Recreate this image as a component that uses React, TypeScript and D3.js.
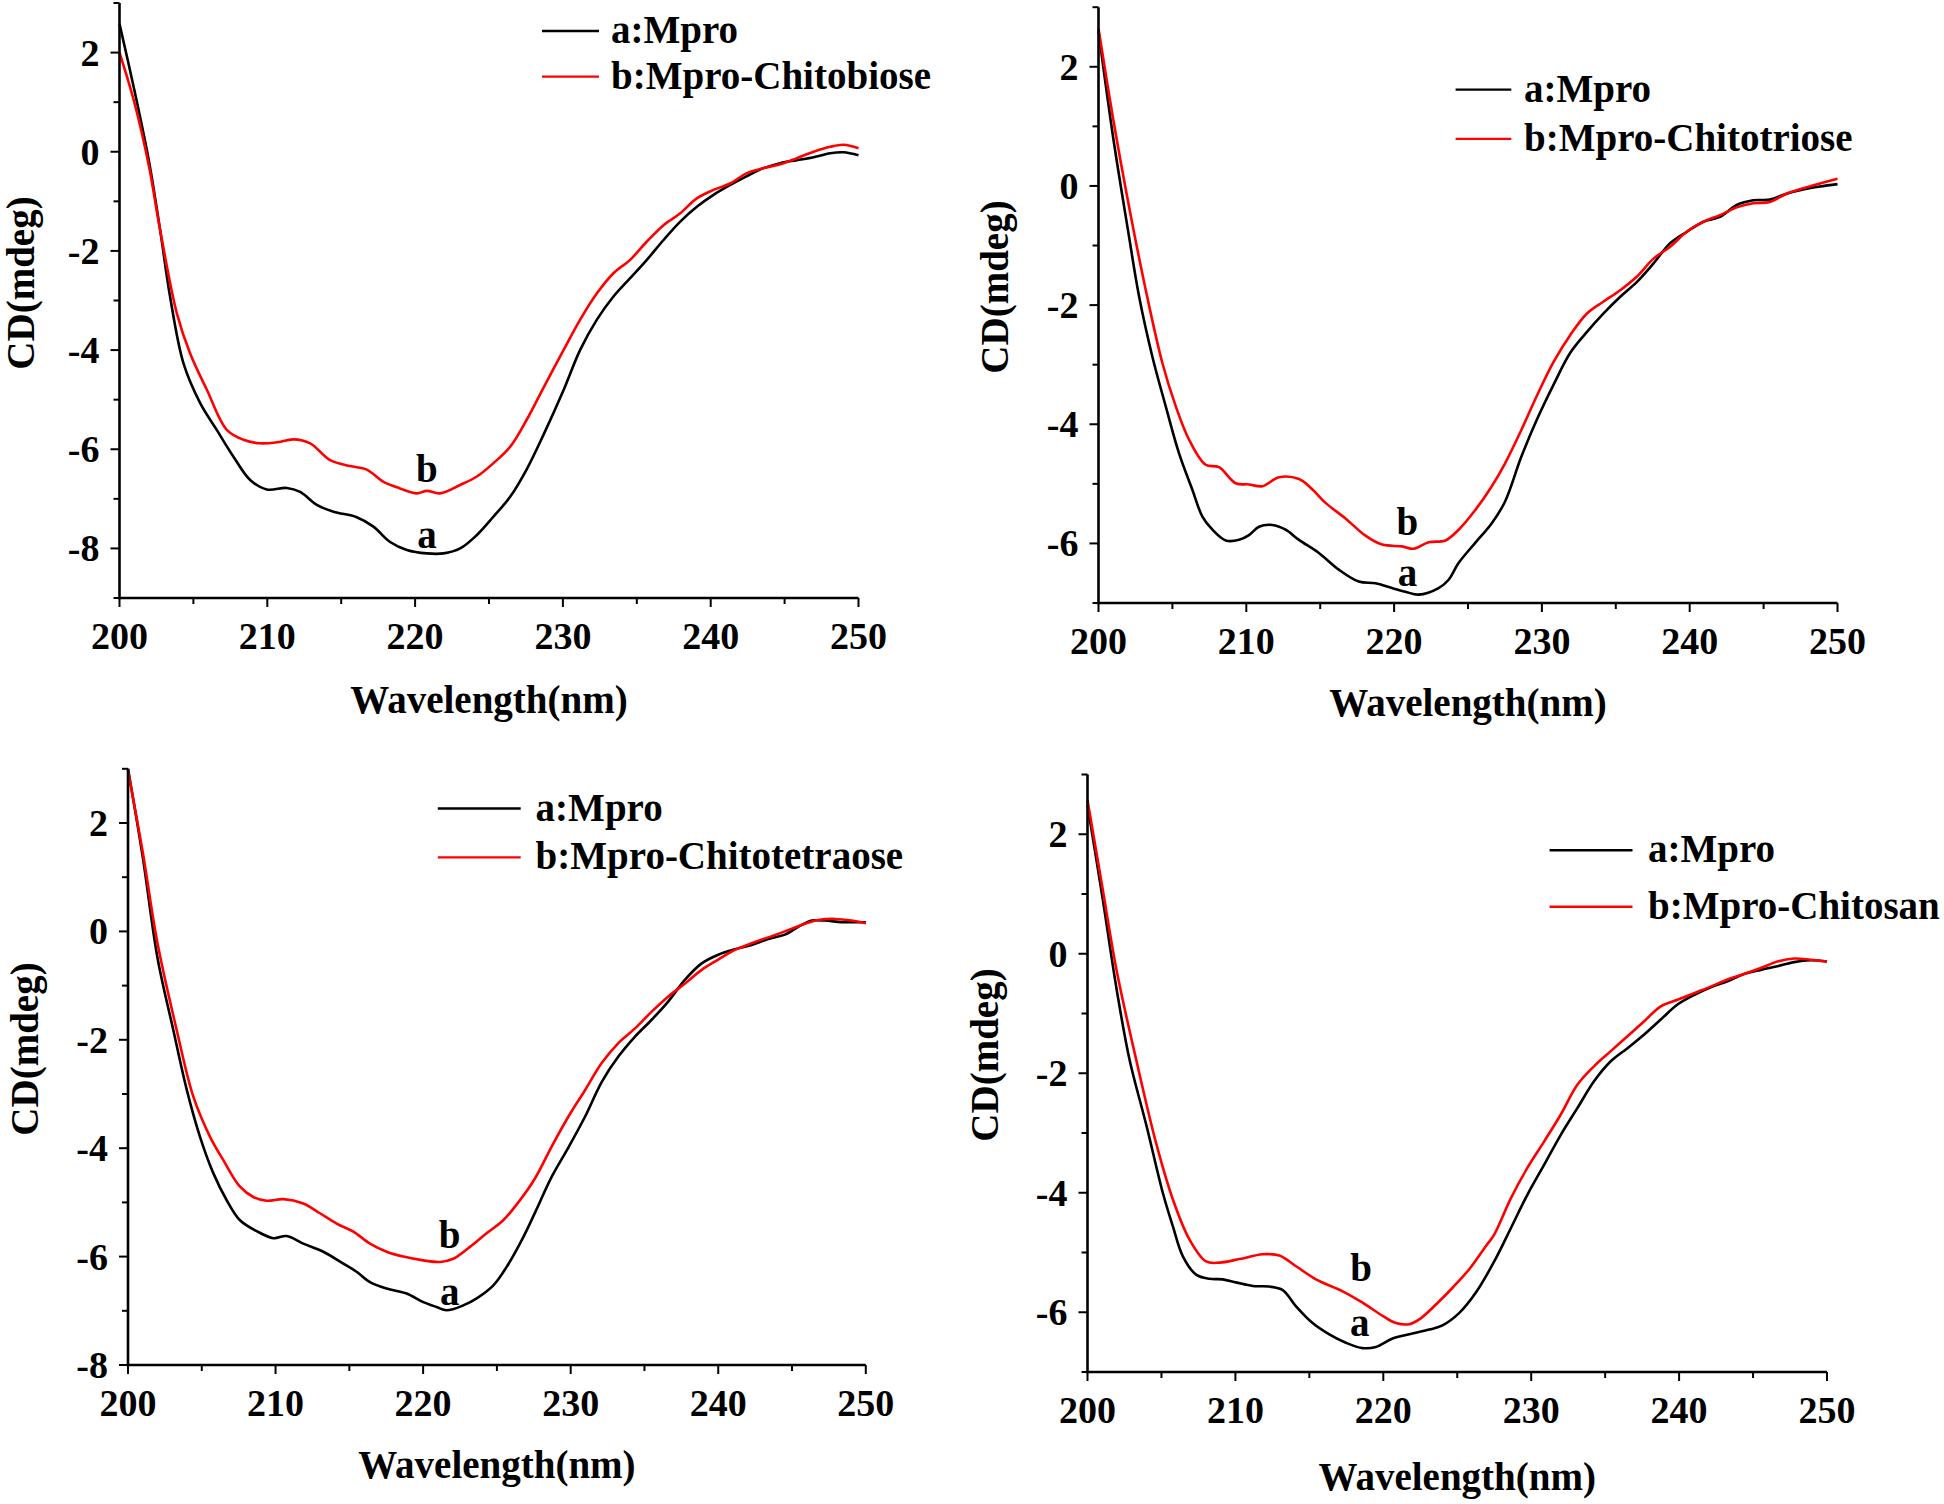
import React from 'react';
import * as d3 from 'd3';

type Pt = [number, number];

// ---------- data ----------
const xMajorTicks = [200, 210, 220, 230, 240, 250];
const xMinorTicks = [205, 215, 225, 235, 245];

const yDomains: [number, number][] = [[-9, 3], [-7, 3], [-8, 3], [-7, 3]];
const yMajorTicks = [
  [-8, -6, -4, -2, 0, 2],
  [-6, -4, -2, 0, 2],
  [-8, -6, -4, -2, 0, 2],
  [-6, -4, -2, 0, 2],
];
const yMinorTicks = [
  [-9, -7, -5, -3, -1, 1, 3],
  [-7, -5, -3, -1, 1, 3],
  [-7, -5, -3, -1, 1, 3],
  [-7, -5, -3, -1, 1, 3],
];

const legendA = 'a:Mpro';
const legendB = ['b:Mpro-Chitobiose', 'b:Mpro-Chitotriose', 'b:Mpro-Chitotetraose', 'b:Mpro-Chitosan'];
const xTitle = 'Wavelength(nm)';
const yTitle = 'CD(mdeg)';

// label anchors in data units (wavelength, value)
const labelB: Pt[] = [[220.8, -6.4], [220.9, -5.64], [221.8, -5.61], [218.5, -5.26]];
const labelA: Pt[] = [[220.8, -7.81], [220.9, -6.56], [221.8, -6.72], [218.4, -6.24]];

const p1Mpro: Pt[] = [
  [200, 2.58], [201, 1.25], [202, -0.2], [202.75, -1.58], [203.42, -2.92], [204.33, -4.27], [205.46, -5.07],
  [206.58, -5.61], [207.71, -6.15], [208.84, -6.62], [209.96, -6.81], [211.32, -6.78], [212.22, -6.86],
  [213.35, -7.12], [214.48, -7.26], [216.05, -7.37], [217.18, -7.56], [218.31, -7.87], [219.44, -8.03],
  [220.79, -8.1], [221.92, -8.1], [223.05, -8.0], [224.18, -7.73], [225.3, -7.36], [226.43, -6.96],
  [227.56, -6.4], [228.7, -5.7], [230.04, -4.81], [231.16, -4.0], [232.29, -3.39], [233.42, -2.92],
  [234.55, -2.55], [235.68, -2.18], [236.81, -1.78], [237.94, -1.41], [239.06, -1.11], [240.19, -0.87],
  [241.32, -0.67], [242.45, -0.49], [243.58, -0.33], [244.71, -0.23], [245.83, -0.17], [246.96, -0.11],
  [248.09, -0.03], [248.99, -0.01], [250, -0.07],
];
const p1Complex: Pt[] = [
  [200, 2.0], [201, 1.0], [202, -0.3], [202.75, -1.58], [203.88, -3.26], [204.78, -4.07], [205.91, -4.8],
  [207.26, -5.61], [208.39, -5.81], [209.51, -5.88], [210.64, -5.86], [211.77, -5.8], [212.9, -5.88],
  [214.25, -6.22], [215.6, -6.34], [216.73, -6.41], [217.86, -6.66], [218.98, -6.79], [220.11, -6.89],
  [220.79, -6.84], [221.69, -6.89], [223.05, -6.72], [224.18, -6.55], [225.3, -6.28], [226.43, -5.95],
  [227.56, -5.4], [228.7, -4.75], [230.04, -4.0], [231.16, -3.39], [232.29, -2.86], [233.42, -2.45],
  [234.55, -2.18], [235.68, -1.81], [236.81, -1.48], [237.94, -1.24], [239.06, -0.94], [240.19, -0.77],
  [241.32, -0.64], [242.45, -0.43], [243.58, -0.33], [244.71, -0.25], [245.83, -0.13], [246.96, 0.0],
  [248.09, 0.1], [248.99, 0.14], [250, 0.07],
];

const p2Mpro: Pt[] = [
  [200, 2.6], [201, 0.8], [202, -0.75], [202.75, -1.86], [203.65, -2.87], [204.55, -3.7], [205.45, -4.49],
  [206.35, -5.1], [207.03, -5.55], [207.71, -5.77], [208.61, -5.95], [209.51, -5.94], [210.18, -5.86],
  [210.86, -5.72], [211.76, -5.69], [212.66, -5.77], [213.56, -5.94], [214.91, -6.16], [216.26, -6.44],
  [217.61, -6.64], [218.74, -6.67], [219.86, -6.75], [220.76, -6.81], [221.66, -6.86], [223.01, -6.75],
  [223.69, -6.61], [224.36, -6.33], [225.49, -5.99], [226.61, -5.66], [227.5, -5.3], [228.6, -4.55],
  [229.7, -3.9], [230.8, -3.33], [231.92, -2.8], [233.05, -2.45], [234.17, -2.14], [235.3, -1.86],
  [236.43, -1.61], [237.55, -1.3], [238.68, -0.96], [239.8, -0.77], [240.93, -0.6], [242.05, -0.52],
  [243.18, -0.32], [244.3, -0.24], [245.43, -0.23], [246.55, -0.13], [247.68, -0.06], [248.81, -0.01],
  [250, 0.03],
];
const p2Complex: Pt[] = [
  [200, 2.64], [201, 1.11], [202, -0.26], [203.2, -1.75], [204.33, -2.98], [205.23, -3.7], [206.13, -4.26],
  [207.25, -4.68], [208.15, -4.72], [209.28, -4.99], [210.18, -5.01], [211.08, -5.04], [212.21, -4.89],
  [213.56, -4.92], [214.46, -5.09], [215.36, -5.32], [216.71, -5.58], [218.06, -5.87], [219.19, -6.02],
  [220.54, -6.05], [221.33, -6.09], [222.34, -5.98], [223.47, -5.95], [224.37, -5.77], [225.49, -5.44],
  [226.61, -5.04], [227.5, -4.66], [228.6, -4.1], [229.7, -3.5], [230.8, -2.95], [231.92, -2.5],
  [233.05, -2.14], [234.17, -1.94], [235.3, -1.75], [236.43, -1.52], [237.55, -1.22], [238.68, -1.02],
  [239.8, -0.77], [240.93, -0.6], [242.05, -0.49], [243.18, -0.36], [244.3, -0.29], [245.43, -0.27],
  [246.55, -0.13], [247.68, -0.04], [248.81, 0.04], [250, 0.12],
];

const p3Mpro: Pt[] = [
  [200, 3.0], [201, 1.37], [202, -0.49], [203.07, -1.82], [203.98, -2.92], [204.88, -3.79], [205.78, -4.46],
  [206.69, -4.96], [207.59, -5.33], [208.72, -5.53], [209.85, -5.66], [210.75, -5.62], [211.88, -5.76],
  [213.24, -5.91], [214.59, -6.13], [215.49, -6.28], [216.4, -6.47], [217.53, -6.59], [218.88, -6.68],
  [220.01, -6.84], [220.91, -6.93], [221.59, -6.99], [222.72, -6.9], [223.63, -6.77], [224.76, -6.53],
  [225.66, -6.19], [226.79, -5.64], [227.6, -5.18], [228.71, -4.53], [229.84, -3.99], [230.97, -3.42],
  [232.1, -2.78], [233.23, -2.31], [234.36, -1.94], [235.49, -1.63], [236.62, -1.29], [237.75, -0.89],
  [238.88, -0.59], [240.0, -0.43], [241.13, -0.33], [242.26, -0.25], [243.39, -0.14], [244.52, -0.06],
  [245.65, 0.12], [246.33, 0.2], [247.23, 0.2], [248.36, 0.17], [249.27, 0.17], [250, 0.17],
];
const p3Complex: Pt[] = [
  [200, 2.96], [201, 1.46], [202, -0.22], [203.3, -1.82], [204.43, -3.05], [205.56, -3.79], [206.46, -4.22],
  [207.59, -4.71], [208.49, -4.9], [209.4, -4.97], [210.53, -4.94], [211.88, -5.02], [213.01, -5.2],
  [214.14, -5.39], [215.27, -5.54], [216.4, -5.76], [217.53, -5.91], [218.66, -6.0], [220.01, -6.07],
  [221.14, -6.1], [222.04, -6.04], [223.17, -5.82], [224.3, -5.57], [225.43, -5.33], [226.56, -4.96],
  [227.6, -4.55], [228.71, -3.97], [229.84, -3.42], [230.97, -2.93], [232.1, -2.43], [233.23, -2.06],
  [234.36, -1.79], [235.49, -1.48], [236.62, -1.2], [237.75, -0.96], [238.88, -0.71], [240.0, -0.52],
  [241.13, -0.34], [242.26, -0.22], [243.39, -0.11], [244.52, 0.0], [245.65, 0.12], [246.78, 0.21],
  [247.91, 0.23], [249.04, 0.2], [250, 0.15],
];

const p4Mpro: Pt[] = [
  [200, 2.49], [201, 0.96], [202, -0.64], [202.84, -1.77], [204.0, -2.89], [205.09, -4.0], [205.77, -4.56],
  [206.44, -5.06], [207.34, -5.37], [208.24, -5.44], [209.14, -5.45], [210.04, -5.5], [211.17, -5.56],
  [212.29, -5.57], [213.2, -5.63], [214.1, -5.9], [215.22, -6.18], [216.35, -6.37], [217.47, -6.51],
  [218.6, -6.6], [219.5, -6.58], [220.63, -6.44], [221.76, -6.37], [223.11, -6.29], [224.0, -6.22],
  [225.14, -6.01], [226.26, -5.67], [227.5, -5.15], [228.63, -4.59], [229.75, -4.03], [230.88, -3.53],
  [232.0, -3.03], [233.13, -2.58], [234.26, -2.13], [235.38, -1.8], [236.51, -1.58], [237.64, -1.35],
  [238.76, -1.1], [239.89, -0.85], [241.01, -0.69], [242.14, -0.56], [243.27, -0.46], [244.39, -0.34],
  [245.52, -0.27], [246.64, -0.21], [247.77, -0.14], [248.9, -0.11], [250, -0.13],
];
const p4Complex: Pt[] = [
  [200, 2.57], [201, 1.12], [202, -0.32], [203.29, -1.77], [204.64, -3.17], [205.77, -4.11], [206.89, -4.78],
  [208.02, -5.15], [208.92, -5.17], [210.27, -5.11], [211.85, -5.03], [212.97, -5.05], [214.1, -5.23],
  [215.45, -5.45], [217.25, -5.65], [218.6, -5.84], [219.95, -6.06], [220.85, -6.18], [221.76, -6.2],
  [222.43, -6.12], [223.56, -5.87], [224.68, -5.59], [225.81, -5.28], [226.94, -4.89], [227.5, -4.7],
  [228.63, -4.09], [229.75, -3.58], [230.88, -3.14], [232.0, -2.69], [233.13, -2.19], [234.26, -1.88],
  [235.38, -1.63], [236.51, -1.38], [237.64, -1.13], [238.76, -0.88], [239.89, -0.77], [241.01, -0.66],
  [242.14, -0.55], [243.27, -0.43], [244.39, -0.34], [245.52, -0.24], [246.64, -0.13], [247.77, -0.08],
  [248.9, -0.1], [250, -0.13],
];

const mproSeries = [p1Mpro, p2Mpro, p3Mpro, p4Mpro];
const complexSeries = [p1Complex, p2Complex, p3Complex, p4Complex];

// ---------- layout ----------
const FONT = "'Liberation Serif','Times New Roman',serif";
const FS = 38;

const layouts = [
  { x0: 119.5, x1: 858.5, yTop: 3, yBot: 598, yTitleX: 34, yTitleY: 283, xTitleY: 713,
    lx0: 542, lx1: 599, ly: [31, 76.6], tx: 611 },
  { x0: 1098.5, x1: 1837.5, yTop: 7.2, yBot: 603, yTitleX: 1008, yTitleY: 287, xTitleY: 716,
    lx0: 1455.6, lx1: 1511.3, ly: [89.6, 138.9], tx: 1524 },
  { x0: 128, x1: 865.8, yTop: 768.8, yBot: 1365, yTitleX: 38, yTitleY: 1049, xTitleY: 1477.6,
    lx0: 437.8, lx1: 520.7, ly: [808.5, 857.4], tx: 535.6 },
  { x0: 1087.5, x1: 1827, yTop: 774.5, yBot: 1372, yTitleX: 998, yTitleY: 1055, xTitleY: 1489.5,
    lx0: 1549.6, lx1: 1632.5, ly: [850.2, 906.7], tx: 1648 },
];

function Panel({ i }: { i: number }) {
  const L = layouts[i];
  const x = d3.scaleLinear().domain([200, 250]).range([L.x0, L.x1]);
  const y = d3.scaleLinear().domain(yDomains[i]).range([L.yBot, L.yTop]);
  const line = d3
    .line<Pt>()
    .x((d) => x(d[0]))
    .y((d) => y(d[1]))
    .curve(d3.curveCatmullRom.alpha(0.5));
  const text = { fontFamily: FONT, fontWeight: 700 as const, fill: '#000' };
  return (
    <g>
      {/* curves */}
      <path d={line(mproSeries[i]) || ''} fill="none" stroke="#000" strokeWidth={2.6} strokeLinejoin="round" />
      <path d={line(complexSeries[i]) || ''} fill="none" stroke="#ff0000" strokeWidth={2.6} strokeLinejoin="round" />
      {/* axes */}
      <line x1={L.x0} x2={L.x0} y1={L.yTop} y2={L.yBot + 1.2} stroke="#000" strokeWidth={2.6} />
      <line x1={L.x0 - 1.2} x2={L.x1} y1={L.yBot} y2={L.yBot} stroke="#000" strokeWidth={2.6} />
      {xMajorTicks.map((t) => (
        <g key={'xm' + t}>
          <line x1={x(t)} x2={x(t)} y1={L.yBot} y2={L.yBot + 9} stroke="#000" strokeWidth={2} />
          <text x={x(t)} y={L.yBot + 51} textAnchor="middle" fontSize={FS} {...text}>{t}</text>
        </g>
      ))}
      {xMinorTicks.map((t) => (
        <line key={'xn' + t} x1={x(t)} x2={x(t)} y1={L.yBot} y2={L.yBot + 6} stroke="#000" strokeWidth={2} />
      ))}
      {yMajorTicks[i].map((t) => (
        <g key={'ym' + t}>
          <line x1={L.x0 - 9} x2={L.x0} y1={y(t)} y2={y(t)} stroke="#000" strokeWidth={2} />
          <text x={L.x0 - 20} y={y(t) + 13} textAnchor="end" fontSize={FS} {...text}>{t}</text>
        </g>
      ))}
      {yMinorTicks[i].map((t) => (
        <line key={'yn' + t} x1={L.x0 - 6} x2={L.x0} y1={y(t)} y2={y(t)} stroke="#000" strokeWidth={2} />
      ))}
      {/* titles */}
      <text x={(L.x0 + L.x1) / 2} y={L.xTitleY} textAnchor="middle" fontSize={39} {...text}>{xTitle}</text>
      <text
        transform={`translate(${L.yTitleX},${L.yTitleY}) rotate(-90)`}
        textAnchor="middle"
        fontSize={39}
        {...text}
      >
        {yTitle}
      </text>
      {/* legend */}
      <line x1={L.lx0} x2={L.lx1} y1={L.ly[0]} y2={L.ly[0]} stroke="#000" strokeWidth={2.4} />
      <text x={L.tx} y={L.ly[0] + 12} fontSize={39} {...text}>{legendA}</text>
      <line x1={L.lx0} x2={L.lx1} y1={L.ly[1]} y2={L.ly[1]} stroke="#ff0000" strokeWidth={2.4} />
      <text x={L.tx} y={L.ly[1] + 12} fontSize={39} {...text}>{legendB[i]}</text>
      {/* curve labels */}
      <text x={x(labelB[i][0])} y={y(labelB[i][1]) + 13} textAnchor="middle" fontSize={39} {...text}>b</text>
      <text x={x(labelA[i][0])} y={y(labelA[i][1]) + 9} textAnchor="middle" fontSize={39} {...text}>a</text>
    </g>
  );
}

export default function App() {
  return (
    <svg
      width={1944}
      height={1504}
      viewBox="0 0 1944 1504"
      style={{ position: 'absolute', left: 0, top: 0, background: '#fff' }}
    >
      <rect x={0} y={0} width={1944} height={1504} fill="#fff" />
      {[0, 1, 2, 3].map((i) => (
        <Panel key={i} i={i} />
      ))}
    </svg>
  );
}
